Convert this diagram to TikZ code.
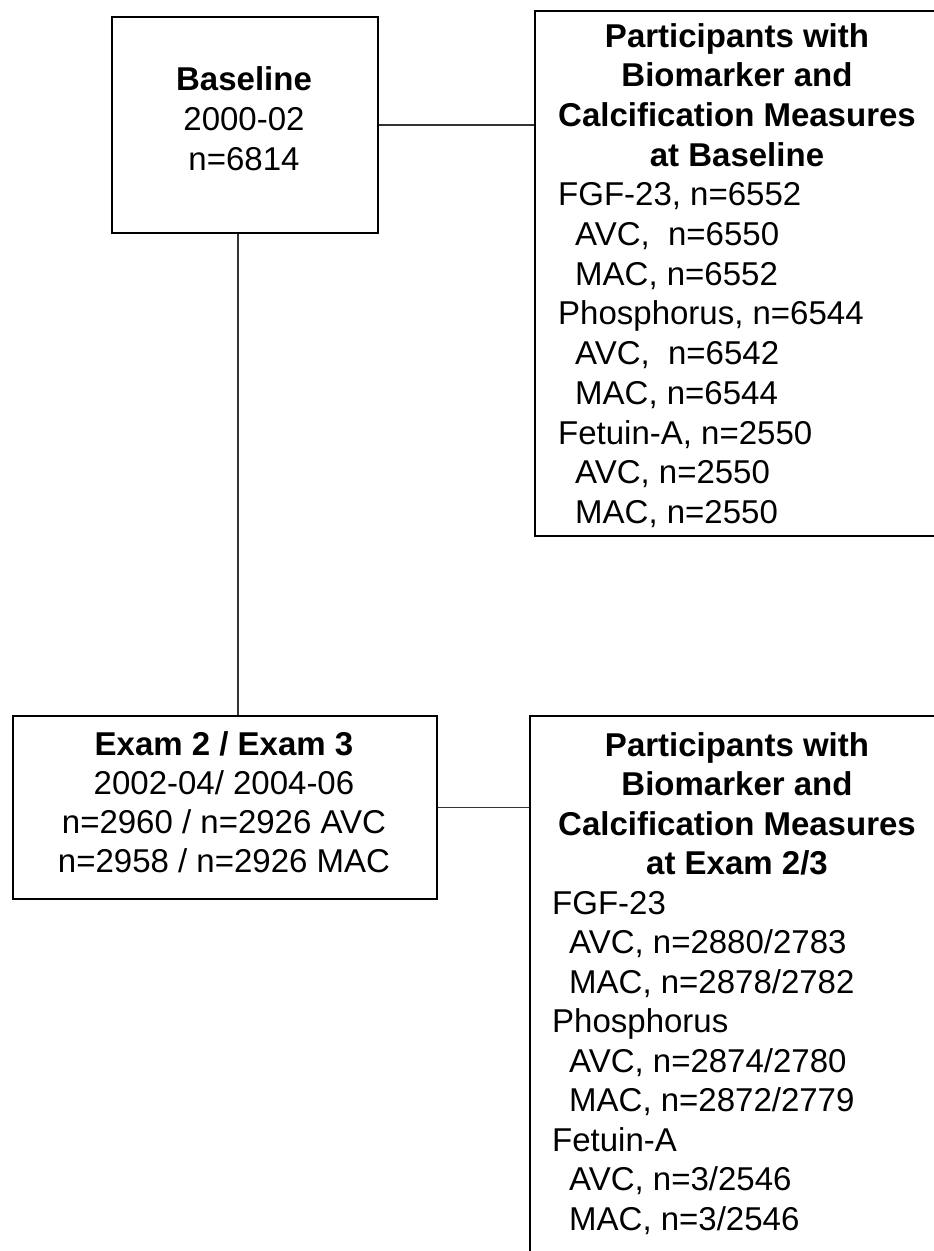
\documentclass[tikz,border=0pt]{standalone}
\usepackage{fontspec}
\setmainfont{Liberation Sans}
\usepackage{array}
\newcommand{\hd}[1]{\multicolumn{1}{@{}c@{}}{\bfseries #1}}
\newcommand{\ind}{\hspace*{17pt}}
\begin{document}
\begin{tikzpicture}[x=1pt,y=-1pt,
  box/.style={draw=black, line width=1.7pt, rectangle, inner sep=0pt, anchor=north west},
  txt/.style={inner sep=0pt, text=black},
  link/.style={draw=black!80, line width=1.5pt}]
\useasboundingbox (0,0) rectangle (934,1251);
% boxes
\node[box, minimum width=266pt, minimum height=216pt] (b1) at (111,16) {};
\node[box, minimum width=409pt, minimum height=525pt] (b2) at (534,10) {};
\node[box, minimum width=424pt, minimum height=183pt] (b3) at (12,715) {};
\node[box, minimum width=415pt, minimum height=600pt] (b4) at (529,715) {};
% connectors
\draw[link] (b1.east) -- (b2.west |- b1.east);
\draw[link] ([xshift=-7pt]b1.south) -- ([xshift=-7pt]b1.south |- b3.north);
\draw[link] (b3.east) -- (b4.west |- b3.east);
% texts
\node[txt, anchor=base, font=\fontsize{33}{40}\selectfont] (t1) at (244,90)
  {\begin{tabular}[t]{@{}c@{}}\textbf{Baseline}\\2000-02\\n=6814\end{tabular}};
\node[txt, anchor=base, font=\fontsize{33}{39.3}\selectfont] (t3) at (224,755)
  {\begin{tabular}[t]{@{}c@{}}\textbf{Exam 2 / Exam 3}\\2002-04/ 2004-06\\n=2960 / n=2926 AVC\\n=2958 / n=2926 MAC\end{tabular}};
\node[txt, anchor=base west, font=\fontsize{33}{39.7}\selectfont] (t2) at (558,47)
  {\begin{tabular}[t]{@{}l@{}}
  \hd{Participants with}\\
  \hd{Biomarker and}\\
  \hd{Calcification Measures}\\
  \hd{at Baseline}\\
  FGF-23, n=6552\\
  \ind AVC,\ \ n=6550\\
  \ind MAC, n=6552\\
  Phosphorus, n=6544\\
  \ind AVC,\ \ n=6542\\
  \ind MAC, n=6544\\
  Fetuin-A, n=2550\\
  \ind AVC, n=2550\\
  \ind MAC, n=2550
  \end{tabular}};
\node[txt, anchor=base west, font=\fontsize{33}{39.5}\selectfont] (t4) at (558,756)
  {\begin{tabular}[t]{@{\hspace{-6pt}}l@{}}
  \hd{Participants with}\\
  \hd{Biomarker and}\\
  \hd{Calcification Measures}\\
  \hd{at Exam 2/3}\\
  FGF-23\\
  \ind AVC, n=2880/2783\\
  \ind MAC, n=2878/2782\\
  Phosphorus\\
  \ind AVC, n=2874/2780\\
  \ind MAC, n=2872/2779\\
  Fetuin-A\\
  \ind AVC, n=3/2546\\
  \ind MAC, n=3/2546
  \end{tabular}};
\end{tikzpicture}
\end{document}
